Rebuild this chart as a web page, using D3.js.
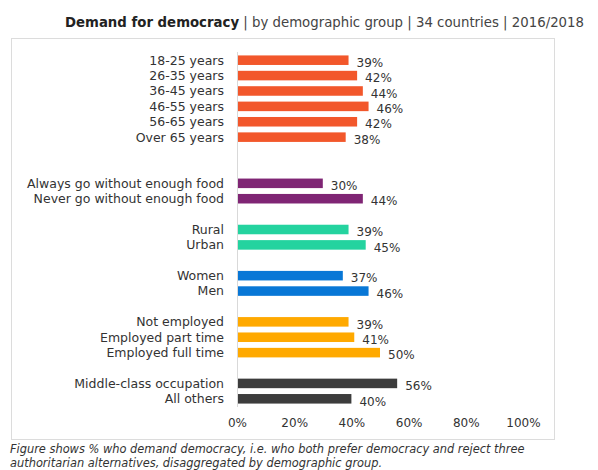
<!DOCTYPE html>
<html>
<head>
<meta charset="utf-8">
<script src="https://cdn.jsdelivr.net/npm/d3@7"></script>
<style>
  html, body { margin: 0; padding: 0; background: #fff; }
  svg { display: block; font-family: "DejaVu Sans", sans-serif; }
</style>
</head>
<body>
<svg id="chart" width="598" height="470"></svg>
<script>
// Demographic groups, their categories and share demanding democracy (%)
const groups = ["age", "food", "location", "gender", "employment", "occupation"];
const groupColors = ["#F2572B", "#7F2574", "#24D39F", "#0877D6", "#FFA900", "#3C3C3C"];
const categories = [
  ["18-25 years", "26-35 years", "36-45 years", "46-55 years", "56-65 years", "Over 65 years"],
  ["Always go without enough food", "Never go without enough food"],
  ["Rural", "Urban"],
  ["Women", "Men"],
  ["Not employed", "Employed part time", "Employed full time"],
  ["Middle-class occupation", "All others"]
];
const values = [
  [39, 42, 44, 46, 42, 38],
  [30, 44],
  [39, 45],
  [37, 46],
  [39, 41, 50],
  [56, 40]
];
// Empty rows inserted after each group
const gapsAfter = [2, 1, 1, 1, 1, 0];
const xTicks = [0, 20, 40, 60, 80, 100];

const svg = d3.select("#chart");

// Build rows (bars plus spacer slots)
const rows = [];
const slots = [];
groups.forEach((g, gi) => {
  categories[gi].forEach((c, ci) => {
    rows.push({ key: c, label: c, value: values[gi][ci], color: groupColors[gi] });
    slots.push(c);
  });
  for (let k = 0; k < gapsAfter[gi]; k++) slots.push("gap-" + gi + "-" + k);
});

const x = d3.scaleLinear().domain([0, 100]).range([237, 523]);
const y = d3.scaleBand().domain(slots).range([52.5, 406.5]).paddingInner(0.38).paddingOuter(0.19);

// Chart frame
svg.append("rect")
  .attr("x", 11.5).attr("y", 38.5).attr("width", 543).attr("height", 401)
  .attr("fill", "none").attr("stroke", "#dcdcdc").attr("stroke-width", 1);

// Title
const title = svg.append("text")
  .attr("x", 584).attr("y", 27).attr("text-anchor", "end")
  .attr("font-size", 13.3).attr("fill", "#222");
title.append("tspan").attr("font-weight", "bold").text("Demand for democracy");
title.append("tspan").attr("fill", "#444").text(" | by demographic group | 34 countries | 2016/2018");

// Vertical baseline
svg.append("line")
  .attr("x1", x(0) + 0.5).attr("x2", x(0) + 0.5)
  .attr("y1", 52).attr("y2", 407)
  .attr("stroke", "#d9d9d9").attr("stroke-width", 1);

// Bars
svg.append("g").selectAll("rect").data(rows).join("rect")
  .attr("x", x(0) + 1)
  .attr("y", d => y(d.key))
  .attr("width", d => x(d.value) - x(0) - 1)
  .attr("height", y.bandwidth())
  .attr("fill", d => d.color);

// Category labels
svg.append("g").selectAll("text").data(rows).join("text")
  .attr("x", 224)
  .attr("y", d => y(d.key) + y.bandwidth() / 2)
  .attr("dy", "0.35em")
  .attr("text-anchor", "end")
  .attr("font-size", 12.5)
  .attr("fill", "#333")
  .text(d => d.label);

// Value labels
svg.append("g").selectAll("text").data(rows).join("text")
  .attr("x", d => x(d.value) + 8)
  .attr("y", d => y(d.key) + y.bandwidth() / 2 + 2.5)
  .attr("dy", "0.35em")
  .attr("font-size", 12)
  .attr("fill", "#333")
  .text(d => d.value + "%");

// X axis tick labels
const axis = d3.axisBottom(x).tickValues(xTicks).tickFormat(d => d + "%").tickSize(0).tickPadding(0);
const gx = svg.append("g").attr("transform", "translate(0,418)").call(axis);
gx.select(".domain").remove();
gx.selectAll("text")
  .attr("font-size", 12)
  .attr("fill", "#333")
  .attr("font-family", "DejaVu Sans, sans-serif");

// Caption
const caption = svg.append("text")
  .attr("font-size", 11.4).attr("font-style", "italic").attr("fill", "#333");
caption.append("tspan").attr("x", 10).attr("y", 453)
  .text("Figure shows % who demand democracy, i.e. who both prefer democracy and reject three");
caption.append("tspan").attr("x", 10).attr("y", 467)
  .text("authoritarian alternatives, disaggregated by demographic group.");
</script>
</body>
</html>
